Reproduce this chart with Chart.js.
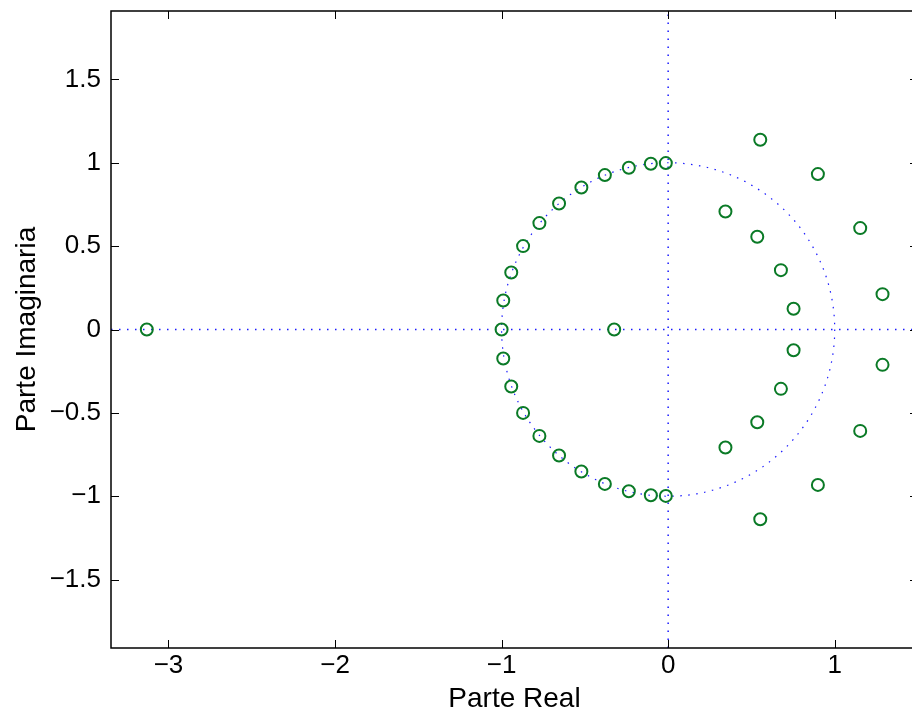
<!DOCTYPE html>
<html lang="es">
<head>
<meta charset="UTF-8" />
<title>Diagrama de polos y ceros</title>
<script src="https://cdn.jsdelivr.net/npm/chart.js"></script>
<style>
  html, body { margin: 0; padding: 0; background: #fff; overflow: hidden; }
  #wrap { width: 930px; height: 716px; }
</style>
</head>
<body>
<div id="wrap"><canvas id="pz" width="930" height="716"></canvas></div>
<script>
// ceros: parte real / parte imaginaria
const zeroRe = [
  -0.014, -0.104, -0.236, -0.380, -0.521, -0.655, -0.773, -0.871, -0.942, -0.990,
  -0.014, -0.104, -0.236, -0.380, -0.521, -0.655, -0.773, -0.871, -0.942, -0.990,
  -1.000, -0.324, -3.130,
  0.553, 0.899, 0.344, 1.153, 0.535, 0.677, 1.287, 0.753,
  0.553, 0.899, 0.344, 1.153, 0.535, 0.677, 1.287, 0.753
];
const zeroIm = [
  0.998, 0.994, 0.970, 0.926, 0.852, 0.756, 0.638, 0.500, 0.342, 0.174,
  -0.998, -0.994, -0.970, -0.926, -0.852, -0.756, -0.638, -0.500, -0.342, -0.174,
  0, 0, 0,
  1.138, 0.932, 0.708, 0.608, 0.556, 0.356, 0.212, 0.124,
  -1.138, -0.932, -0.708, -0.608, -0.556, -0.356, -0.212, -0.124
];

const xLimits = [-3.345, 1.5];
const yLimits = [-1.91, 1.91];
const xTicks = [-3, -2, -1, 0, 1];
const yTicks = [-1.5, -1, -0.5, 0, 0.5, 1, 1.5];
const unitRadius = 1;

const TICK_FONT = { family: '"Liberation Sans", Arial, sans-serif', size: 26 };
const TITLE_FONT = { family: '"Liberation Sans", Arial, sans-serif', size: 28 };
const DOT_BLUE = '#1a1aff';
const DOTS = [1.5, 6.5];

function fmt(v) {
  return v < 0 ? '\u2212' + Math.abs(v) : String(v);
}

// circulo unidad punteado
const unitCircle = {
  id: 'unitCircle',
  beforeDatasetsDraw(chart) {
    const { ctx, chartArea, scales: { x, y } } = chart;
    const cx = x.getPixelForValue(0), cy = y.getPixelForValue(0);
    const rx = x.getPixelForValue(unitRadius) - cx;
    const ry = cy - y.getPixelForValue(unitRadius);
    ctx.save();
    ctx.beginPath();
    ctx.rect(chartArea.left, chartArea.top, chartArea.right - chartArea.left, chartArea.bottom - chartArea.top);
    ctx.clip();
    ctx.strokeStyle = DOT_BLUE;
    ctx.lineWidth = 1.2;
    ctx.setLineDash(DOTS);
    ctx.beginPath();
    ctx.ellipse(cx, cy, rx, ry, 0, 0, Math.PI * 2);
    ctx.stroke();
    ctx.restore();
  }
};

// marco con marcas hacia dentro en los cuatro lados
const boxTicks = {
  id: 'boxTicks',
  afterDraw(chart) {
    const { ctx, chartArea: a, scales: { x, y } } = chart;
    const len = 8;
    ctx.save();
    ctx.strokeStyle = '#000';
    ctx.lineWidth = 1;
    ctx.beginPath();
    xTicks.forEach(v => {
      const px = Math.round(x.getPixelForValue(v)) + 0.5;
      ctx.moveTo(px, a.bottom); ctx.lineTo(px, a.bottom - len);
      ctx.moveTo(px, a.top); ctx.lineTo(px, a.top + len);
    });
    yTicks.forEach(v => {
      const py = Math.round(y.getPixelForValue(v)) + 0.5;
      ctx.moveTo(a.left, py); ctx.lineTo(a.left + len, py);
      ctx.moveTo(a.right, py); ctx.lineTo(a.right - len, py);
    });
    ctx.stroke();
    ctx.lineWidth = 1.5;
    ctx.strokeRect(a.left, a.top, a.right - a.left, a.bottom - a.top);
    ctx.restore();
  }
};

const zeros = zeroRe.map((re, i) => ({ x: re, y: zeroIm[i] }));

new Chart(document.getElementById('pz'), {
  type: 'scatter',
  data: {
    datasets: [
      {
        label: 'ceros',
        data: zeros,
        pointStyle: 'circle',
        pointRadius: 6,
        pointHoverRadius: 6,
        borderWidth: 2,
        borderColor: '#0a7a26',
        backgroundColor: 'rgba(0,0,0,0)'
      },
      {
        label: 'eje real',
        type: 'line',
        data: [{ x: xLimits[0], y: 0 }, { x: xLimits[1], y: 0 }],
        borderColor: DOT_BLUE,
        borderWidth: 1.5,
        borderDash: DOTS,
        pointRadius: 0,
        order: 2
      },
      {
        label: 'eje imaginario',
        type: 'line',
        data: [{ x: 0, y: yLimits[0] }, { x: 0, y: yLimits[1] }],
        borderColor: DOT_BLUE,
        borderWidth: 1.5,
        borderDash: DOTS,
        pointRadius: 0,
        order: 2
      }
    ]
  },
  options: {
    responsive: false,
    animation: false,
    events: [],
    layout: { padding: { top: 11, right: 12, left: 0, bottom: 0 } },
    plugins: { legend: { display: false }, tooltip: { enabled: false } },
    scales: {
      x: {
        type: 'linear',
        min: xLimits[0],
        max: xLimits[1],
        afterBuildTicks: s => { s.ticks = xTicks.map(v => ({ value: v })); },
        afterFit: s => { s.height = 68; s.paddingLeft = 0; s.paddingRight = 0; },
        grid: { display: false, drawTicks: false },
        border: { display: false },
        ticks: { font: TICK_FONT, color: '#000', padding: 2, maxRotation: 0, callback: v => fmt(v) },
        title: { display: true, text: 'Parte Real', font: TITLE_FONT, color: '#000', padding: { top: 2, bottom: 0 } }
      },
      y: {
        type: 'linear',
        min: yLimits[0],
        max: yLimits[1],
        afterBuildTicks: s => { s.ticks = yTicks.map(v => ({ value: v })); },
        afterFit: s => { s.width = 111; s.paddingTop = 0; s.paddingBottom = 0; },
        grid: { display: false, drawTicks: false },
        border: { display: false },
        ticks: { font: TICK_FONT, color: '#000', padding: 10, callback: v => fmt(v) },
        title: { display: true, text: 'Parte Imaginaria', font: TITLE_FONT, color: '#000', padding: { top: 10, bottom: 0 } }
      }
    }
  },
  plugins: [unitCircle, boxTicks]
});
</script>
</body>
</html>
